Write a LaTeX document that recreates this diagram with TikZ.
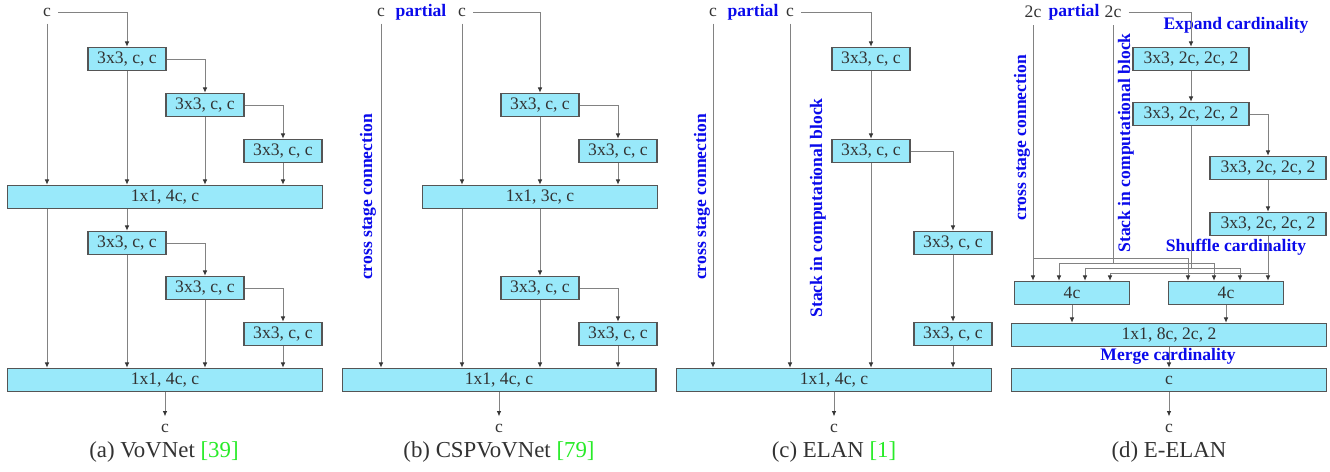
\documentclass[tikz,border=0pt]{standalone}
\usepackage{fontspec}
\setmainfont{Liberation Serif}
\usetikzlibrary{arrows.meta}
\definecolor{boxcyan}{RGB}{153,233,250}
\definecolor{boxline}{RGB}{85,85,85}
\definecolor{wire}{RGB}{130,130,130}
\definecolor{tipgray}{RGB}{55,55,55}
\definecolor{noteblue}{RGB}{10,10,235}
\definecolor{refgreen}{RGB}{40,235,40}
\definecolor{textgray}{RGB}{50,50,50}

\begin{document}
\begin{tikzpicture}[x=0.02cm,y=-0.02cm]
\tikzstyle{conv}=[
	rectangle,
	draw=boxline, fill=boxcyan, line width=0.6pt,
	minimum width=1.56cm, minimum height=0.47cm, inner sep=0pt,
	font=\fontsize{10}{12}\selectfont, text=textgray ]
\tikzstyle{wide}=[conv, minimum width=6.3cm]
\tikzstyle{lbl}=[inner sep=4pt, font=\fontsize{10}{12}\selectfont, text=textgray]
\tikzstyle{note}=[inner sep=0pt, font=\fontsize{10}{12}\selectfont\bfseries, text=noteblue]
\tikzstyle{caption}=[inner sep=0pt, font=\fontsize{13}{15}\selectfont, text=textgray]
\tikzstyle{link}=[draw=wire, line width=0.5pt, -{Latex[length=3pt,width=2.6pt,color=tipgray]}]
\tikzstyle{wireline}=[draw=wire, line width=0.5pt]
\useasboundingbox (0,0) rectangle (1330,471);

\node[lbl] (ina) at (47,12) {c};
\node[conv] (a1) at (127,59) {3x3, c, c};
\node[conv] (a2) at (205,105) {3x3, c, c};
\node[conv] (a3) at (283,151) {3x3, c, c};
\node[wide] (ab1) at (165,197) {1x1, 4c, c};
\node[conv] (a4) at (127,243) {3x3, c, c};
\node[conv] (a5) at (205,288) {3x3, c, c};
\node[conv] (a6) at (283,334) {3x3, c, c};
\node[wide] (ab2) at (165,380) {1x1, 4c, c};
\node[lbl] (outa) at (165,428) {c};
\node[caption] (capa) at (164,452) {(a) VoVNet \textcolor{refgreen}{[39]}};
\draw[link] (ina.east) -| (a1.north);
\draw[link] (a1.east) -| (a2.north);
\draw[link] (a2.east) -| (a3.north);
\draw[link] (ina.south) -- (ina |- ab1.north);
\draw[link] (a1.south) -- (a1 |- ab1.north);
\draw[link] (a2.south) -- (a2 |- ab1.north);
\draw[link] (a3.south) -- (a3 |- ab1.north);
\draw[link] (ina |- ab1.south) -- (ina |- ab2.north);
\draw[link] (a4 |- ab1.south) -- (a4.north);
\draw[link] (a4.east) -| (a5.north);
\draw[link] (a5.east) -| (a6.north);
\draw[link] (a4.south) -- (a4 |- ab2.north);
\draw[link] (a5.south) -- (a5 |- ab2.north);
\draw[link] (a6.south) -- (a6 |- ab2.north);
\draw[link] (ab2.south) -- (outa.north);

\node[lbl] (inb1) at (381,12) {c};
\node[note] (partb) at (421,12) {partial};
\node[lbl] (inb2) at (462,12) {c};
\node[conv] (b1) at (540,105) {3x3, c, c};
\node[conv] (b2) at (618,151) {3x3, c, c};
\node[conv, minimum width=4.7cm] (bb1) at (540,197) {1x1, 3c, c};
\node[conv] (b3) at (540,288) {3x3, c, c};
\node[conv] (b4) at (618,334) {3x3, c, c};
\node[wide, minimum width=6.28cm] (bb2) at (499,380) {1x1, 4c, c};
\node[lbl] (outb) at (499,428) {c};
\node[caption] (capb) at (499,452) {(b) CSPVoVNet \textcolor{refgreen}{[79]}};
\node[note, rotate=90] (csb) at (368,197) {cross stage connection};
\draw[link] (inb2.east) -| (b1.north);
\draw[link] (b1.east) -| (b2.north);
\draw[link] (b1.south) -- (b1 |- bb1.north);
\draw[link] (b2.south) -- (b2 |- bb1.north);
\draw[link] (inb2.south) -- (inb2 |- bb1.north);
\draw[link] (inb2 |- bb1.south) -- (inb2 |- bb2.north);
\draw[link] (b3 |- bb1.south) -- (b3.north);
\draw[link] (b3.east) -| (b4.north);
\draw[link] (b3.south) -- (b3 |- bb2.north);
\draw[link] (b4.south) -- (b4 |- bb2.north);
\draw[link] (inb1.south) -- (inb1 |- bb2.north);
\draw[link] (bb2.south) -- (outb.north);

\node[lbl] (inc1) at (713,12) {c};
\node[note] (partc) at (753,12) {partial};
\node[lbl] (inc2) at (790,12) {c};
\node[conv] (c1) at (871,59) {3x3, c, c};
\node[conv] (c2) at (871,151) {3x3, c, c};
\node[conv] (c3) at (953,243) {3x3, c, c};
\node[conv] (c4) at (953,334) {3x3, c, c};
\node[wide] (cb) at (834,380) {1x1, 4c, c};
\node[lbl] (outc) at (834,428) {c};
\node[caption] (capc) at (834,452) {(c) ELAN \textcolor{refgreen}{[1]}};
\node[note, rotate=90] (csc) at (702,197) {cross stage connection};
\node[note, rotate=90] (stc) at (818,208) {Stack in computational block};
\draw[link] (inc2.east) -| (c1.north);
\draw[link] (c1.south) -- (c2.north);
\draw[link] (c2.east) -| (c3.north);
\draw[link] (c3.south) -- (c4.north);
\draw[link] (inc1.south) -- (inc1 |- cb.north);
\draw[link] (inc2.south) -- (inc2 |- cb.north);
\draw[link] (c2.south) -- (c2 |- cb.north);
\draw[link] (c4.south) -- (c4 |- cb.north);
\draw[link] (cb.south) -- (outc.north);

\node[lbl] (ind1) at (1033,12) {2c};
\node[note] (partd) at (1074,12) {partial};
\node[lbl] (ind2) at (1113,12) {2c};
\node[note] (expd) at (1236,25) {Expand cardinality};
\node[conv, minimum width=2.32cm] (d1) at (1191,59) {3x3, 2c, 2c, 2};
\node[conv, minimum width=2.32cm] (d2) at (1191,114) {3x3, 2c, 2c, 2};
\node[conv, minimum width=2.32cm] (d3) at (1268,168) {3x3, 2c, 2c, 2};
\node[conv, minimum width=2.32cm] (d4) at (1268,224) {3x3, 2c, 2c, 2};
\node[note, rotate=90] (csd) at (1022,138) {cross stage connection};
\node[note, rotate=90] (std) at (1126,143) {Stack in computational block};
\node[note] (shd) at (1236,247) {Shuffle cardinality};
\node[conv, minimum width=2.3cm] (g1) at (1072,293) {4c};
\node[conv, minimum width=2.3cm] (g2) at (1226,293) {4c};
\node[wide] (dm) at (1169,335) {1x1, 8c, 2c, 2};
\node[note] (mrg) at (1168,356) {Merge cardinality};
\node[wide] (dc) at (1169,380) {c};
\node[lbl] (outd) at (1169,428) {c};
\node[caption] (capd) at (1169,452) {(d) E-ELAN};
\coordinate (h1) at (0,258);
\coordinate (h2) at (0,263);
\coordinate (h3) at (0,268);
\coordinate (h4) at (0,273);
\coordinate (p2) at (1059,0);
\coordinate (p3) at (1085,0);
\coordinate (p4) at (1110,0);
\coordinate (q1) at (1188,0);
\coordinate (q2) at (1214,0);
\coordinate (q3) at (1240,0);
\draw[link] (ind2.east) -| (d1.north);
\draw[link] (d1.south) -- (d2.north);
\draw[link] (d2.east) -| (d3.north);
\draw[link] (d3.south) -- (d4.north);
\draw[link] (ind1.south) -- (ind1 |- g1.north);
\draw[link] (ind1 |- h1) -| (q1 |- g2.north);
\draw[wireline] (ind2.south) -- (ind2 |- h2);
\draw[link] (ind2 |- h2) -| (p2 |- g1.north);
\draw[link] (ind2 |- h2) -| (q2 |- g2.north);
\draw[link] (d2.south) |- (p3 |- h3) -- (p3 |- g1.north);
\draw[link] (d2 |- h3) -| (q3 |- g2.north);
\draw[link] (d4.south) |- (p4 |- h4) -- (p4 |- g1.north);
\draw[link] (d4 |- h4) -- (d4 |- g2.north);
\draw[link] (g1.south) -- (g1 |- dm.north);
\draw[link] (g2.south) -- (g2 |- dm.north);
\draw[link] (dm.south) -- (dc.north);
\draw[link] (dc.south) -- (outd.north);
\end{tikzpicture}
\end{document}
